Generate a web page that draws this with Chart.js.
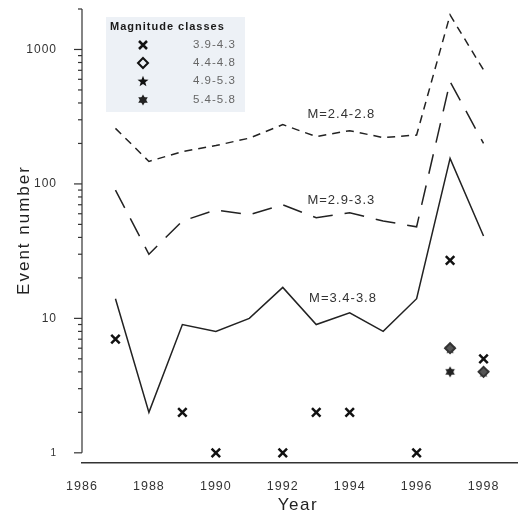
<!DOCTYPE html>
<html>
<head>
<meta charset="utf-8">
<script src="https://cdn.jsdelivr.net/npm/chart.js@4.4.1/dist/chart.umd.min.js"></script>
<style>
  html, body { margin: 0; padding: 0; background: #fff; }
  #wrap { width: 527px; height: 520px; }
</style>
</head>
<body>
<div id="wrap"><canvas id="myChart" width="527" height="520"></canvas></div>
<script>
// yearly event numbers per small-magnitude band
const years = [1987, 1988, 1989, 1990, 1991, 1992, 1993, 1994, 1995, 1996, 1997, 1998];
const m24 = [259, 147, 174, 193, 219, 276, 225, 249, 221, 231, 1806, 704];
const m29 = [90, 30, 53, 64, 59, 70, 56, 61, 53, 48, 577, 200];
const m34 = [14, 2, 9, 8, 10, 17, 9, 11, 8, 14, 155, 41];

// larger events, plotted as markers
const c39Years = [1987, 1989, 1990, 1992, 1993, 1994, 1996, 1997, 1998];
const c39Vals = [7, 2, 1, 1, 2, 2, 1, 27, 5];
const c44Years = [1997, 1998];
const c44Vals = [6, 4];
const c49Years = [1997, 1998];
const c49Vals = [6, 4];
const c54Years = [1997];
const c54Vals = [4];

const xTicks = [1986, 1988, 1990, 1992, 1994, 1996, 1998];
const yLabels = [1, 10, 100, 1000];
const classNames = ['3.9-4.3', '4.4-4.8', '4.9-5.3', '5.4-5.8'];
const lineNames = ['M=2.4-2.8', 'M=2.9-3.3', 'M=3.4-3.8'];

const FONT = '"Liberation Sans", Arial, sans-serif';

function pts(xs, ys) {
  return xs.map((x, i) => ({ x: x, y: ys[i] }));
}

// marker images
function makeStar() {
  const c = document.createElement('canvas');
  c.width = 12; c.height = 12;
  const g = c.getContext('2d');
  g.fillStyle = '#111';
  g.beginPath();
  for (let i = 0; i < 10; i++) {
    const r = i % 2 === 0 ? 5.8 : 2.4;
    const a = -Math.PI / 2 + i * Math.PI / 5;
    g.lineTo(6 + r * Math.cos(a), 6.5 + r * Math.sin(a));
  }
  g.closePath();
  g.fill();
  return c;
}
function makeHexagram() {
  const c = document.createElement('canvas');
  c.width = 12; c.height = 12;
  const g = c.getContext('2d');
  g.fillStyle = '#222';
  [ -Math.PI / 2, Math.PI / 2 ].forEach(function(start) {
    g.beginPath();
    for (let i = 0; i < 3; i++) {
      const a = start + i * 2 * Math.PI / 3;
      g.lineTo(6 + 5.5 * Math.cos(a), 6 + 5.5 * Math.sin(a));
    }
    g.closePath();
    g.fill();
  });
  return c;
}
const starImg = makeStar();
const hexImg = makeHexagram();

// the scanned figure has wide letter spacing
const spacingPlugin = {
  id: 'spacing',
  beforeDraw(chart) {
    chart.ctx.letterSpacing = '1px';
  }
};

// axis line, ticks, titles, legend box and line labels
const decorPlugin = {
  id: 'decor',
  afterDraw(chart) {
    const ctx = chart.ctx;
    const xs = chart.scales.x, ys = chart.scales.y;
    const left = xs.left;
    ctx.save();
    ctx.strokeStyle = '#333';
    ctx.lineWidth = 1.2;
    // y axis line from the top down to 1
    ctx.beginPath();
    ctx.moveTo(left, chart.chartArea.top);
    ctx.lineTo(left, ys.getPixelForValue(1));
    ctx.stroke();
    // major and minor ticks
    for (let dec = 1; dec <= 1000; dec *= 10) {
      for (let k = 1; k <= 9; k++) {
        const v = dec * k;
        if (v > ys.max) break;
        const py = ys.getPixelForValue(v);
        const len = k === 1 ? 8 : 4;
        ctx.beginPath();
        ctx.moveTo(left - len, py);
        ctx.lineTo(left, py);
        ctx.stroke();
      }
    }

    // axis titles
    ctx.fillStyle = '#222';
    ctx.textBaseline = 'middle';
    ctx.textAlign = 'center';
    ctx.font = '17px ' + FONT;
    ctx.letterSpacing = '1.5px';
    ctx.fillText('Year', 298, 505);
    ctx.save();
    ctx.translate(24, 230);
    ctx.rotate(-Math.PI / 2);
    ctx.letterSpacing = '2px';
    ctx.fillText('Event number', 0, 0);
    ctx.restore();

    // legend
    ctx.fillStyle = '#edf1f6';
    ctx.fillRect(106, 17, 139, 95);
    ctx.fillStyle = '#1a1a1a';
    ctx.font = 'bold 11px ' + FONT;
    ctx.letterSpacing = '1px';
    ctx.textAlign = 'left';
    ctx.fillText('Magnitude classes', 110, 27);
    const rowY = [45, 63, 81, 100];
    ctx.font = '11.5px ' + FONT;
    rowY.forEach(function(y, i) {
      ctx.fillStyle = '#666';
      ctx.fillText(classNames[i], 193, y);
    });
    const mx = 143;
    ctx.strokeStyle = '#111';
    ctx.lineWidth = 2.5;
    ctx.beginPath();
    ctx.moveTo(mx - 4, rowY[0] - 4); ctx.lineTo(mx + 4, rowY[0] + 4);
    ctx.moveTo(mx + 4, rowY[0] - 4); ctx.lineTo(mx - 4, rowY[0] + 4);
    ctx.stroke();
    ctx.lineWidth = 2;
    ctx.beginPath();
    ctx.moveTo(mx, rowY[1] - 5); ctx.lineTo(mx + 5, rowY[1]);
    ctx.lineTo(mx, rowY[1] + 5); ctx.lineTo(mx - 5, rowY[1]);
    ctx.closePath();
    ctx.stroke();
    ctx.drawImage(starImg, mx - 6, rowY[2] - 6);
    ctx.drawImage(hexImg, mx - 6, rowY[3] - 6);

    // labels next to the lines
    ctx.fillStyle = '#333';
    ctx.font = '13px ' + FONT;
    ctx.letterSpacing = '1px';
    ctx.textAlign = 'center';
    ctx.fillText(lineNames[0], xs.getPixelForValue(1993.75), ys.getPixelForValue(331));
    ctx.fillText(lineNames[1], xs.getPixelForValue(1993.75), ys.getPixelForValue(76));
    ctx.fillText(lineNames[2], xs.getPixelForValue(1993.8), ys.getPixelForValue(14));
    ctx.restore();
  }
};

const ctx = document.getElementById('myChart').getContext('2d');

new Chart(ctx, {
  type: 'line',
  data: {
    datasets: [
      { data: pts(years, m24), borderColor: '#222', borderWidth: 1.5, borderDash: [8, 6], pointRadius: 0, tension: 0 },
      { data: pts(years, m29), borderColor: '#222', borderWidth: 1.5, borderDash: [20, 12], pointRadius: 0, tension: 0 },
      { data: pts(years, m34), borderColor: '#222', borderWidth: 1.5, pointRadius: 0, tension: 0 },
      { data: pts(c39Years, c39Vals), showLine: false, pointStyle: 'crossRot', pointRadius: 6, borderColor: '#111', borderWidth: 2.5 },
      { data: pts(c44Years, c44Vals), showLine: false, pointStyle: 'rectRot', pointRadius: 5, borderColor: '#333', backgroundColor: '#555', borderWidth: 2 },
      { data: pts(c49Years, c49Vals), showLine: false, pointStyle: starImg, pointRadius: 6 },
      { data: pts(c54Years, c54Vals), showLine: false, pointStyle: hexImg, pointRadius: 6 }
    ]
  },
  options: {
    responsive: false,
    animation: false,
    layout: { padding: { top: 9, right: 10, left: 0, bottom: 0 } },
    plugins: { legend: { display: false }, tooltip: { enabled: false } },
    scales: {
      x: {
        type: 'linear',
        min: 1986,
        max: 1999,
        afterBuildTicks: function(scale) { scale.ticks = xTicks.map(v => ({ value: v })); },
        afterFit: function(scale) { scale.height = 57; },
        grid: { display: false },
        border: { display: true, color: '#333', width: 1.5 },
        ticks: {
          padding: 8,
          color: '#333',
          font: { family: FONT, size: 12.5 },
          callback: v => String(v)
        }
      },
      y: {
        type: 'logarithmic',
        min: 0.84,
        max: 2000,
        afterBuildTicks: function(scale) { scale.ticks = yLabels.map(v => ({ value: v })); },
        afterFit: function(scale) {
          scale.width = 82;
          scale.paddingTop = 0;
          scale.paddingBottom = 0;
        },
        grid: { display: false },
        border: { display: false },
        ticks: {
          padding: 17,
          color: '#333',
          font: function(c) { return { family: FONT, size: c.tick && c.tick.value === 1 ? 10 : 12 }; },
          callback: v => String(v)
        }
      }
    }
  },
  plugins: [spacingPlugin, decorPlugin]
});
</script>
</body>
</html>
